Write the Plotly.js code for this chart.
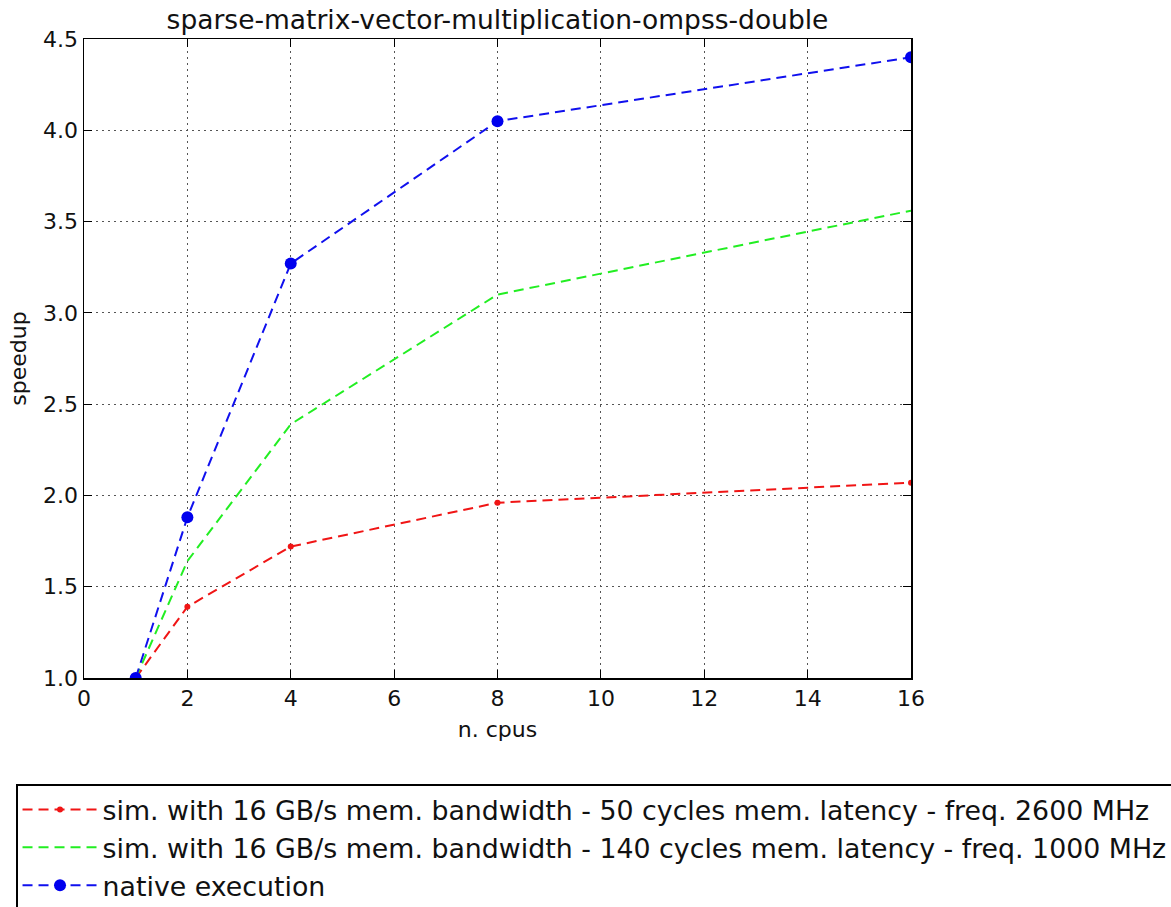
<!DOCTYPE html>
<html>
<head>
<meta charset="utf-8">
<script src="https://cdn.plot.ly/plotly-3.0.1.min.js"></script>
<style>html,body{margin:0;padding:0;background:#fff;}#chart{width:1171px;height:907px;}</style>
</head>
<body>
<div id="chart"></div>
<script>
const cpus = [1, 2, 4, 8, 16];
const simFast = [1.0, 1.39, 1.72, 1.96, 2.07];
const simSlow = [1.0, 1.64, 2.39, 3.10, 3.56];
const native = [1.0, 1.88, 3.27, 4.05, 4.40];
const seriesNames = [
  'sim. with 16 GB/s mem. bandwidth - 50 cycles mem. latency - freq. 2600 MHz',
  'sim. with 16 GB/s mem. bandwidth - 140 cycles mem. latency - freq. 1000 MHz',
  'native execution'
];
const xTicks = [0, 2, 4, 6, 8, 10, 12, 14, 16];
const yTicks = [1.0, 1.5, 2.0, 2.5, 3.0, 3.5, 4.0, 4.5];

const font = 'DejaVu Sans, Liberation Sans, sans-serif';
const dash = '10px,6px';
const traces = [
  {x: cpus, y: simFast, name: seriesNames[0], mode: 'lines+markers',
   line: {color: '#f01515', width: 2, dash: dash}, marker: {color: '#f01515', size: 6}},
  {x: cpus, y: simSlow, name: seriesNames[1], mode: 'lines',
   line: {color: '#22ee22', width: 2, dash: dash}},
  {x: cpus, y: native, name: seriesNames[2], mode: 'lines+markers',
   line: {color: '#1010ee', width: 2, dash: dash}, marker: {color: '#0000ee', size: 12}}
];
const axisCommon = {
  showline: true, linecolor: '#000', linewidth: 1.5, mirror: 'ticks',
  ticks: 'inside', ticklen: 8, tickwidth: 1, tickcolor: '#000',
  showgrid: true, gridcolor: '#555', griddash: '1.5px,4.5px', gridwidth: 1,
  zeroline: false, tickfont: {family: font, size: 22, color: '#111'}
};
const layout = {
  width: 1171, height: 907,
  margin: {l: 84, r: 260, t: 39, b: 229, autoexpand: false},
  paper_bgcolor: '#fff', plot_bgcolor: '#fff',
  title: {text: 'sparse-matrix-vector-multiplication-ompss-double', font: {family: font, size: 26.5, color: '#111'},
          x: 0.5, xref: 'paper', xanchor: 'center', y: 1, yref: 'paper', yanchor: 'bottom', pad: {b: 10}},
  xaxis: Object.assign({}, axisCommon, {range: [0, 16], tickvals: xTicks, ticktext: xTicks.map(String),
    title: {text: 'n. cpus', font: {family: font, size: 22, color: '#111'}, standoff: 11}}),
  yaxis: Object.assign({}, axisCommon, {range: [1.0, 4.5], tickvals: yTicks, ticktext: yTicks.map(v => v.toFixed(1)),
    title: {text: 'speedup', font: {family: font, size: 22, color: '#111'}, standoff: 10}}),
  showlegend: true,
  legend: {x: -0.0822, xanchor: 'left', y: -0.166, yanchor: 'top', xref: 'paper', yref: 'paper',
    bordercolor: '#000', borderwidth: 1.5, bgcolor: '#fff',
    font: {family: font, size: 26.8, color: '#111'}, tracegroupgap: 0, itemwidth: 75}
};
Plotly.newPlot('chart', traces, layout, {displayModeBar: false, staticPlot: true});
</script>
</body>
</html>
